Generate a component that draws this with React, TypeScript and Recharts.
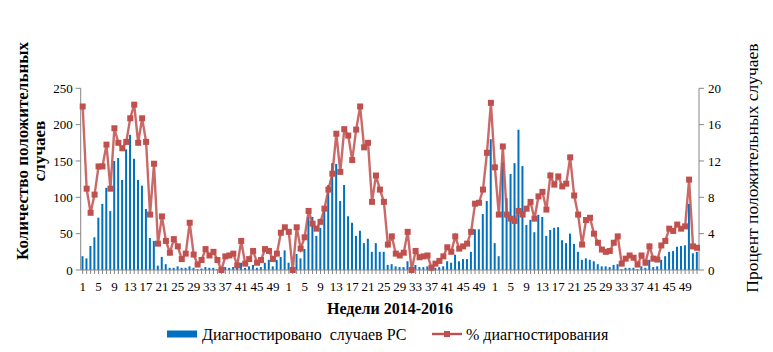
import React from "react";
import { ComposedChart, Bar, Line, XAxis, YAxis } from "recharts";

const years = [2014, 2015, 2016];

const cases2014 = [19, 16, 33, 45, 72, 91, 113, 81, 150, 154, 124, 166, 186, 153, 124, 116, 84, 44, 40, 6, 18, 8, 3, 3, 5, 3, 3, 5, 3, 1, 2, 4, 3, 3, 1, 1, 4, 3, 4, 7, 10, 3, 5, 7, 3, 4, 10, 14, 5, 14, 18, 27];
const cases2015 = [10, 2, 22, 16, 29, 73, 73, 47, 58, 82, 117, 147, 146, 95, 117, 74, 65, 47, 54, 37, 43, 25, 37, 25, 25, 7, 8, 5, 4, 4, 12, 2, 7, 4, 4, 5, 1, 3, 4, 5, 12, 10, 21, 12, 15, 15, 25, 56, 56, 77, 95, 180];
const cases2016 = [37, 19, 148, 99, 132, 147, 193, 143, 62, 69, 52, 76, 73, 47, 55, 58, 59, 41, 37, 50, 36, 25, 14, 16, 14, 12, 8, 5, 5, 4, 7, 8, 1, 3, 3, 3, 1, 5, 3, 14, 4, 5, 14, 19, 25, 26, 32, 33, 34, 91, 23, 25];

const pct2014 = [18.0, 8.95, 6.3, 8.3, 11.4, 11.4, 13.8, 8.95, 15.6, 14.0, 13.4, 14.1, 16.7, 18.2, 14.0, 16.7, 14.1, 6.1, 11.7, 2.9, 5.9, 3.2, 1.9, 3.4, 2.6, 1.2, 1.8, 5.2, 1.7, 0.6, 1.1, 2.3, 1.6, 2.0, 1.1, 0.0, 1.5, 1.6, 1.8, 0.5, 3.2, 0.7, 1.2, 2.1, 0.8, 1.1, 2.3, 2.1, 1.2, 1.8, 4.1, 4.7];
const pct2015 = [4.2, 0, 4.7, 2.35, 3.6, 6.5, 5.1, 4.55, 5.3, 6.75, 8.85, 10.6, 15.0, 10.8, 15.5, 14.8, 12.1, 15.45, 18.0, 13.5, 14.0, 7.5, 10.4, 8.85, 7.5, 2.8, 3.7, 1.8, 1.6, 1.9, 4.2, 0, 2.1, 1.4, 1.5, 1.6, 0.25, 0.7, 1.0, 1.5, 2.5, 2.0, 3.7, 2.35, 2.6, 2.9, 4.2, 7.3, 7.4, 8.85, 12.9, 18.4];
const pct2016 = [11.3, 6.1, 13.6, 6.1, 5.65, 5.4, 6.5, 6.1, 6.75, 7.5, 5.65, 8.1, 8.6, 6.65, 10.4, 9.4, 10.3, 9.2, 9.5, 12.4, 8.2, 6.1, 2.8, 5.5, 5.75, 4.0, 3.0, 2.25, 2.0, 2.1, 3.0, 3.7, 0.7, 1.25, 1.6, 1.35, 0.6, 1.6, 0.8, 2.6, 1.25, 1.15, 2.7, 3.2, 4.55, 4.3, 5.0, 4.55, 4.8, 9.95, 2.6, 2.45];

const leftTicks = [0, 50, 100, 150, 200, 250];
const rightTicks = [0, 2, 4, 6, 8, 10, 12, 14, 16, 18, 20];

const casesByYear = [cases2014, cases2015, cases2016];
const pctByYear = [pct2014, pct2015, pct2016];

const data = years.flatMap((y, yi) =>
  casesByYear[yi].map((c, wi) => ({
    key: `${y}-${wi + 1}`,
    cases: c,
    pct: pctByYear[yi][wi],
  }))
);

const FONT = "Liberation Serif";
const AXIS = "#868686";
const BLUE = "#0070C0";
const RED = "#C0504D";

const WeekTick = (props: any) => {
  const { x, y, payload } = props;
  const wk = Number(String(payload.value).split("-")[1]);
  if ((wk - 1) % 4 !== 0) return null;
  return (
    <text x={x} y={y} dy="0.71em" textAnchor="middle" fontSize={13} fill="#000" style={{ fontFamily: FONT }}>
      {wk}
    </text>
  );
};

const LeftTick = (props: any) => {
  const { x, y, payload } = props;
  return (
    <text x={x} y={y} dy="0.35em" textAnchor="end" fontSize={13} fill="#000" style={{ fontFamily: FONT }}>
      {payload.value}
    </text>
  );
};

const RightTick = (props: any) => {
  const { x, y, payload } = props;
  return (
    <text x={x} y={y} dy="0.35em" textAnchor="start" fontSize={13} fill="#000" style={{ fontFamily: FONT }}>
      {payload.value}
    </text>
  );
};

const SquareDot = (props: any) => {
  const { cx, cy, index } = props;
  if (cx == null || cy == null) return null;
  return <rect key={`d-${index}`} x={cx - 3} y={cy - 3} width={6} height={6} fill={RED} />;
};

export default function App() {
  const W = 765;
  const H = 344;
  return (
    <div style={{ position: "relative", width: W, height: H, fontFamily: FONT }}>
      <ComposedChart
        width={W}
        height={H}
        data={data}
        margin={{ top: 80.3, left: 12.7, right: 14, bottom: 52 }}
        barCategoryGap="20%"
        style={{ fontFamily: FONT }}
      >
        <XAxis
          dataKey="key"
          xAxisId="x"
          interval={0}
          height={30}
          tick={<WeekTick />}
          tickSize={4}
          tickMargin={8}
          axisLine={{ stroke: AXIS }}
          tickLine={{ stroke: AXIS }}
        />
        <YAxis
          yAxisId="left"
          orientation="left"
          width={60}
          domain={[0, 250]}
          ticks={leftTicks}
          tickSize={5}
          tickMargin={3}
          axisLine={{ stroke: AXIS }}
          tickLine={{ stroke: AXIS }}
          tick={<LeftTick />}
        />
        <YAxis
          yAxisId="right"
          orientation="right"
          width={60}
          domain={[0, 20]}
          ticks={rightTicks}
          tickSize={5}
          tickMargin={4}
          axisLine={{ stroke: AXIS }}
          tickLine={{ stroke: AXIS }}
          tick={<RightTick />}
        />
        <Bar xAxisId="x" yAxisId="left" dataKey="cases" fill={BLUE} isAnimationActive={false} />
        <Line
          xAxisId="x"
          yAxisId="right"
          dataKey="pct"
          stroke={RED}
          strokeWidth={2.4}
          strokeOpacity={0.85}
          dot={<SquareDot />}
          activeDot={false}
          isAnimationActive={false}
        />
      </ComposedChart>
      <svg
        width={W}
        height={H}
        style={{ position: "absolute", left: 0, top: 0, pointerEvents: "none", fontFamily: FONT }}
      >
        <g fill="#000">
          <text
            x={14}
            y={143}
            transform="rotate(-90 14 143)"
            textAnchor="middle"
            dominantBaseline="central"
            fontSize={17}
            fontWeight="bold"
          >
            Количество положительных
          </text>
          <text
            x={31}
            y={143}
            transform="rotate(-90 31 143)"
            textAnchor="middle"
            dominantBaseline="central"
            fontSize={17}
            fontWeight="bold"
          >
            случаев
          </text>
          <text
            x={744}
            y={160}
            transform="rotate(-90 744 160)"
            textAnchor="middle"
            dominantBaseline="central"
            fontSize={17.5}
          >
            Процент положительных случаев
          </text>
          <text x={382} y={300} textAnchor="middle" dominantBaseline="central" fontSize={16} fontWeight="bold">
            Недели 2014-2016
          </text>
          <rect x={159} y={322.5} width={30} height={7} fill={BLUE} />
          <text x={194} y={326} dominantBaseline="central" fontSize={16} style={{ whiteSpace: "pre" }}>
            {"Диагностировано  случаев РС"}
          </text>
          <line x1={424} y1={326} x2={454} y2={326} stroke={RED} strokeWidth={2.4} />
          <rect x={436} y={323} width={6} height={6} fill={RED} />
          <text x={458} y={326} dominantBaseline="central" fontSize={16}>
            % диагностирования
          </text>
        </g>
      </svg>
    </div>
  );
}
